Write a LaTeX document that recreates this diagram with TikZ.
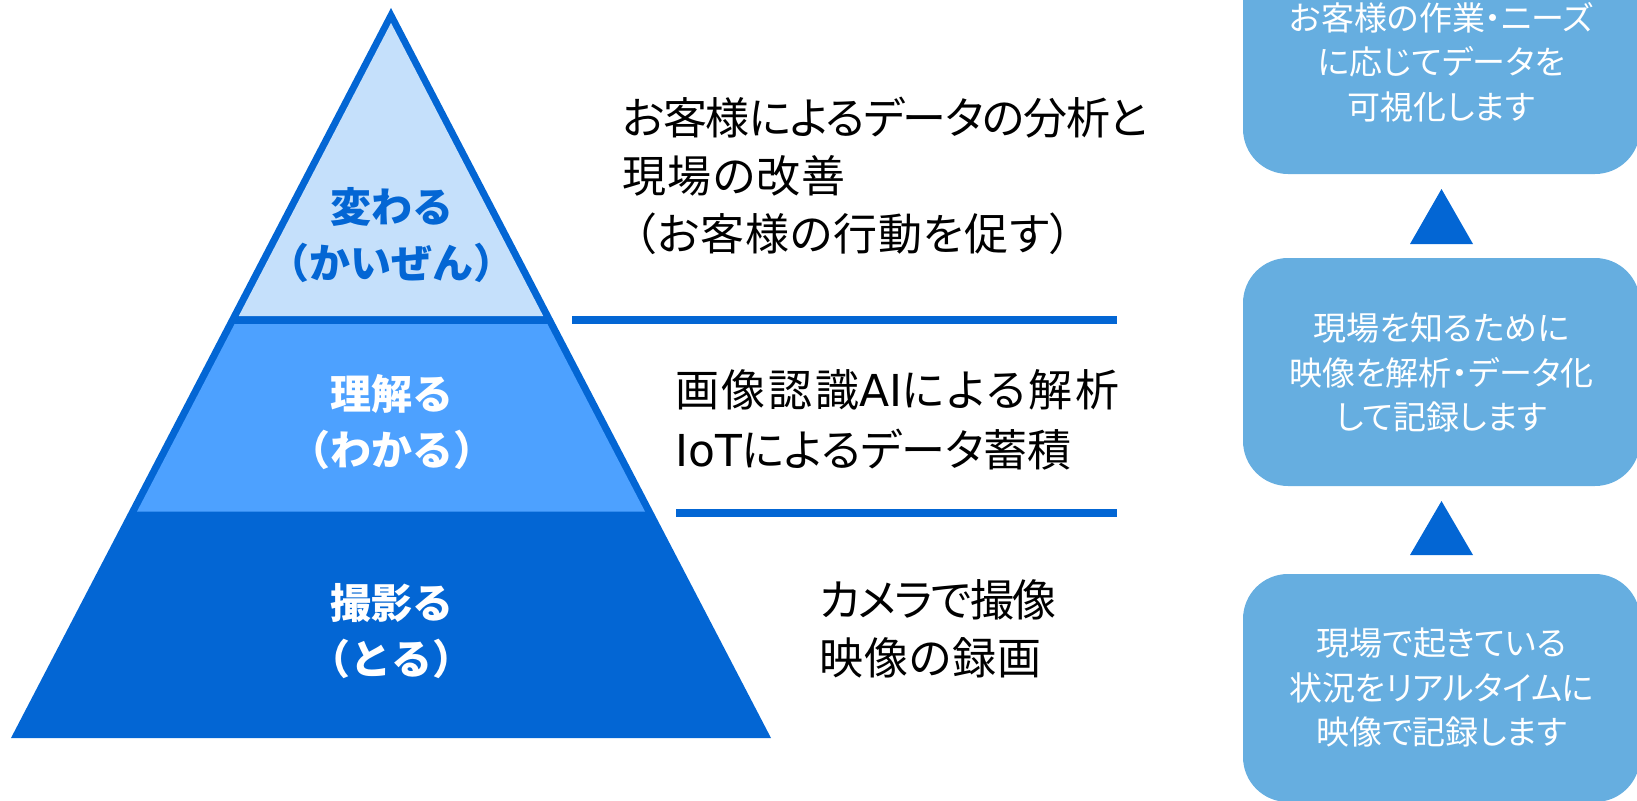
\documentclass[tikz,border=0pt]{standalone}
\usepackage{fontspec}
\setmainfont{Noto Sans CJK JP}
\newfontfamily\jpp{Noto Sans CJK JP}[RawFeature=+palt]
\newfontfamily\latn{DejaVu Sans}
\definecolor{dblue}{RGB}{3,102,212}
\definecolor{lblue}{RGB}{197,224,251}
\definecolor{mblue}{RGB}{77,161,255}
\definecolor{bxblue}{RGB}{102,174,224}
\tikzset{
  plabel/.style={font=\fontsize{41}{56}\selectfont\bfseries, align=center, inner sep=0pt},
  desc/.style={font=\jpp\fontsize{44}{58}\selectfont, align=left, inner sep=0pt, anchor=west, text=black},
  box/.style={fill=bxblue, rounded corners=45pt, minimum width=397pt, minimum height=228pt, inner sep=0pt,
    text=white, align=center, font=\jpp\fontsize{33}{44.5}\selectfont},
  sepline/.style={draw=dblue, line width=8pt},
  uptri/.style={fill=dblue}
}
\begin{document}
\begin{tikzpicture}[x=1pt,y=-1pt]
\useasboundingbox (0,0) rectangle (1637,800);
\clip (0,0) rectangle (1637,800);
% pyramid
\fill[dblue] (391,8) -- (771,738) -- (11,738) -- cycle;
\fill[lblue] (391,23) -- (543.2,316) -- (238.8,316) -- cycle;
\fill[mblue] (234.6,324) -- (547.4,324) -- (645,511.5) -- (137,511.5) -- cycle;
\node[plabel, text=dblue] (l1) at (391.5,235) {変わる\\（かいぜん）};
\node[plabel, text=white] (l2) at (391.5,422) {理解る\\（わかる）};
\node[plabel, text=white] (l3) at (391.5,631.5) {撮影る\\（とる）};
% separators
\coordinate (s1a) at (572,320); \coordinate (s1b) at (1117,320);
\coordinate (s2a) at (676,513); \coordinate (s2b) at (1117,513);
\draw[sepline] (s1a) -- (s1b);
\draw[sepline] (s2a) -- (s2b);
% descriptions
\node[desc] (d1) at (622,175.5) {{\addfontfeature{LetterSpace=-3}お客様によるデータの分析と}\\{\addfontfeature{LetterSpace=3}現場の改善}\\\hspace*{12pt}{\addfontfeature{LetterSpace=2}（お客様の行動を促す）}};
\node[desc, font=\jpp\fontsize{44}{60}\selectfont] (d2) at (675,420) {{\addfontfeature{LetterSpace=6}画像認識{\latn AI}による解析}\\{\latn IoT}によるデータ蓄積};
\node[desc] (d3) at (819,629) {{\addfontfeature{LetterSpace=-4}カメラで撮像}\\{\addfontfeature{LetterSpace=2}映像の録画}};
% boxes
\node[box] (b1) at (1441.5,60) {};
\node[box] (b2) at (1441.5,372) {};
\node[box] (b3) at (1441.5,688) {};
\node[box, fill=none, minimum width=0pt, minimum height=0pt] (t1) at (1441.5,62) {お客様の作業・ニーズ\\に応じてデータを\\可視化します};
\node[box, fill=none, minimum width=0pt, minimum height=0pt] (t2) at (1441.5,372.5) {現場を知るために\\映像を解析・データ化\\して記録します};
\node[box, fill=none, minimum width=0pt, minimum height=0pt] (t3) at (1441.5,688) {現場で起きている\\状況をリアルタイムに\\映像で記録します};
% arrows (triangles)
\fill[uptri] (1441.5,189) -- (1473,244) -- (1410,244) -- cycle;
\fill[uptri] (1441.5,501) -- (1473,555) -- (1410,555) -- cycle;
\end{tikzpicture}
\end{document}
